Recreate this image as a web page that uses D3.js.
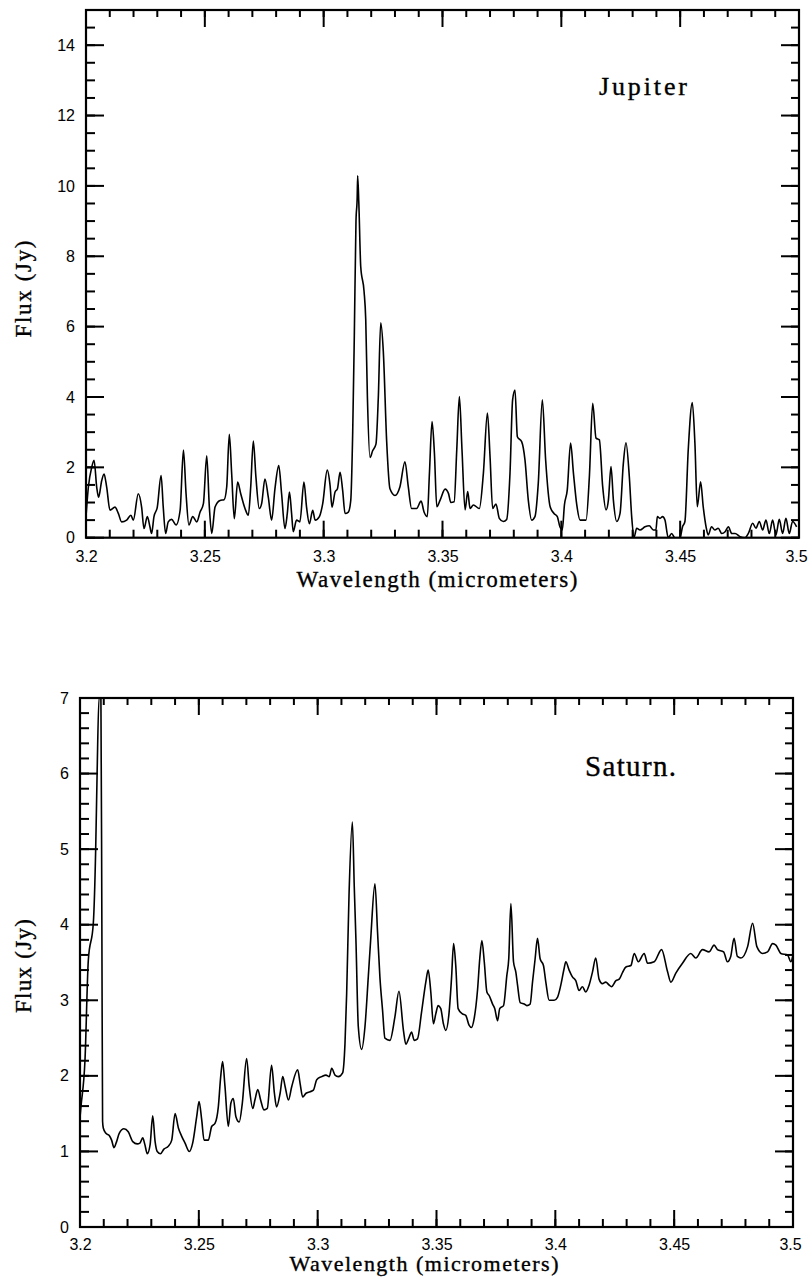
<!DOCTYPE html>
<html>
<head>
<meta charset="utf-8">
<script src="https://cdn.jsdelivr.net/npm/d3@7"></script>
<style>
    body { margin: 0; background: #fff; }
    svg { display: block; }
    .tick text { font-family: 'Liberation Sans', Arial, sans-serif; font-size: 16px; fill: #000; }
    .title { font-family: 'Liberation Serif', 'Times New Roman', serif; fill: #000; stroke: #000; stroke-width: 0.35; }
</style>
</head>
<body>
<svg width="809" height="1282"></svg>
<script>
// wavelength (micrometers), flux (Jy)
var jupiterSpectrum = [
    [3.2000,0.60],[3.2010,1.44],[3.2024,2.00],[3.2034,2.20],[3.2045,1.44],[3.2053,1.15],[3.2066,1.62],[3.2076,1.81],
    [3.2087,1.44],[3.2101,0.78],[3.2122,0.87],[3.2136,0.69],[3.2150,0.45],[3.2171,0.50],[3.2189,0.64],[3.2199,0.50],
    [3.2220,1.25],[3.2234,0.87],[3.2244,0.26],[3.2258,0.60],[3.2269,0.31],[3.2276,0.12],[3.2286,0.60],[3.2300,0.87],
    [3.2316,1.77],[3.2325,0.87],[3.2335,0.12],[3.2346,0.45],[3.2360,0.52],[3.2379,0.36],[3.2396,0.78],[3.2410,2.49],
    [3.2421,1.25],[3.2433,0.36],[3.2449,0.60],[3.2466,0.45],[3.2480,0.73],[3.2494,0.97],[3.2508,2.33],[3.2519,0.87],
    [3.2529,0.12],[3.2543,0.87],[3.2564,1.06],[3.2581,1.08],[3.2592,1.44],[3.2603,2.94],[3.2613,1.81],[3.2624,0.54],
    [3.2638,1.58],[3.2651,1.25],[3.2669,0.83],[3.2683,0.64],[3.2693,1.44],[3.2704,2.75],[3.2715,1.72],[3.2729,0.83],
    [3.2739,0.97],[3.2753,1.67],[3.2767,1.15],[3.2781,0.50],[3.2795,1.39],[3.2811,2.05],[3.2823,1.25],[3.2837,0.26],
    [3.2847,0.69],[3.2856,1.30],[3.2865,0.69],[3.2872,0.17],[3.2886,0.50],[3.2900,0.45],[3.2917,1.58],[3.2928,0.87],
    [3.2940,0.40],[3.2954,0.78],[3.2964,0.50],[3.2982,0.60],[3.2996,0.97],[3.3015,1.92],[3.3027,1.48],[3.3035,0.87],
    [3.3048,1.30],[3.3058,1.39],[3.3069,1.86],[3.3080,1.34],[3.3090,0.69],[3.3104,0.73],[3.3114,1.06],[3.3122,2.94],
    [3.3129,5.76],[3.3136,9.00],[3.3141,9.66],[3.3143,10.29],[3.3148,9.50],[3.3156,7.70],[3.3170,7.00],[3.3177,6.20],
    [3.3184,4.00],[3.3195,2.28],[3.3206,2.47],[3.3220,2.66],[3.3230,4.00],[3.3240,6.11],[3.3251,5.29],[3.3265,2.75],
    [3.3279,1.39],[3.3300,1.20],[3.3321,1.45],[3.3342,2.16],[3.3356,1.45],[3.3370,0.83],[3.3391,0.83],[3.3410,1.04],
    [3.3422,0.74],[3.3436,0.60],[3.3445,1.83],[3.3456,3.30],[3.3466,2.40],[3.3476,0.88],[3.3490,1.07],[3.3511,1.38],
    [3.3525,1.26],[3.3535,1.00],[3.3549,1.02],[3.3560,2.50],[3.3571,4.01],[3.3582,2.50],[3.3595,0.79],[3.3606,1.31],
    [3.3616,0.83],[3.3630,0.93],[3.3655,0.83],[3.3672,1.83],[3.3689,3.54],[3.3700,2.31],[3.3711,0.83],[3.3725,0.96],
    [3.3739,0.55],[3.3756,0.46],[3.3770,0.52],[3.3784,1.83],[3.3795,3.92],[3.3805,4.20],[3.3815,2.87],[3.3833,2.73],
    [3.3847,2.21],[3.3861,1.07],[3.3875,0.50],[3.3889,0.60],[3.3903,1.55],[3.3920,3.92],[3.3934,2.21],[3.3953,0.88],
    [3.3969,0.69],[3.3983,0.60],[3.3994,0.31],[3.4004,0.22],[3.4013,0.93],[3.4025,1.36],[3.4039,2.69],[3.4051,1.83],
    [3.4065,0.93],[3.4079,0.50],[3.4104,0.50],[3.4118,1.74],[3.4132,3.82],[3.4146,2.83],[3.4160,2.78],[3.4174,1.45],
    [3.4188,0.79],[3.4198,1.07],[3.4209,2.02],[3.4219,1.07],[3.4233,0.46],[3.4247,0.69],[3.4261,2.12],[3.4272,2.70],
    [3.4286,1.74],[3.4296,0.60],[3.4306,0.01],[3.4317,0.27],[3.4331,0.22],[3.4352,0.31],[3.4370,0.34],[3.4387,0.22],
    [3.4398,0.22],[3.4404,0.60],[3.4415,0.55],[3.4426,0.60],[3.4436,0.50],[3.4450,0.00],[3.4464,0.12],[3.4478,0.00],
    [3.4499,0.00],[3.4510,0.31],[3.4520,0.46],[3.4534,2.50],[3.4551,3.84],[3.4562,2.69],[3.4572,0.88],[3.4586,1.59],
    [3.4597,0.88],[3.4609,0.31],[3.4618,0.08],[3.4632,0.31],[3.4646,0.22],[3.4660,0.27],[3.4675,0.12],[3.4689,0.17],
    [3.4703,0.31],[3.4717,0.12],[3.4731,0.12],[3.4752,0.03],[3.4773,0.00],[3.4787,0.12],[3.4805,0.41],[3.4819,0.27],
    [3.4833,0.46],[3.4847,0.22],[3.4861,0.50],[3.4875,0.12],[3.4889,0.50],[3.4903,0.08],[3.4917,0.52],[3.4931,0.12],
    [3.4945,0.55],[3.4959,0.12],[3.4973,0.46],[3.4990,0.31]
];

var saturnSpectrum = [
    [3.2000,1.45],[3.2004,1.59],[3.2021,2.21],[3.2035,3.53],[3.2056,4.02],[3.2066,5.00],[3.2072,6.00],[3.2080,7.00],
    [3.2088,7.00],[3.2092,4.00],[3.2095,1.40],[3.2098,1.31],[3.2109,1.24],[3.2123,1.21],[3.2133,1.15],[3.2143,1.05],
    [3.2154,1.13],[3.2165,1.24],[3.2185,1.30],[3.2203,1.26],[3.2222,1.13],[3.2241,1.10],[3.2252,1.11],[3.2264,1.18],
    [3.2273,1.09],[3.2283,0.97],[3.2295,1.09],[3.2306,1.47],[3.2316,1.13],[3.2325,1.00],[3.2339,0.97],[3.2353,1.03],
    [3.2372,1.07],[3.2386,1.15],[3.2400,1.50],[3.2414,1.31],[3.2428,1.20],[3.2442,1.11],[3.2460,1.00],[3.2474,1.11],
    [3.2491,1.46],[3.2501,1.66],[3.2512,1.42],[3.2522,1.15],[3.2540,1.15],[3.2554,1.33],[3.2568,1.37],[3.2582,1.59],
    [3.2592,1.99],[3.2600,2.19],[3.2610,1.86],[3.2624,1.33],[3.2635,1.64],[3.2645,1.70],[3.2656,1.46],[3.2670,1.39],
    [3.2683,1.64],[3.2701,2.23],[3.2712,1.86],[3.2727,1.57],[3.2736,1.68],[3.2748,1.82],[3.2760,1.68],[3.2774,1.55],
    [3.2788,1.57],[3.2806,2.14],[3.2818,1.77],[3.2827,1.59],[3.2842,1.77],[3.2853,1.99],[3.2863,1.86],[3.2877,1.68],
    [3.2891,1.86],[3.2916,2.08],[3.2926,1.90],[3.2937,1.72],[3.2951,1.77],[3.2968,1.79],[3.2982,1.81],[3.2996,1.95],
    [3.3017,1.99],[3.3035,2.01],[3.3049,1.99],[3.3059,2.10],[3.3073,2.01],[3.3087,1.99],[3.3105,2.04],[3.3115,2.43],
    [3.3122,3.09],[3.3132,4.40],[3.3146,5.36],[3.3154,4.50],[3.3161,3.80],[3.3171,2.65],[3.3185,2.35],[3.3199,2.65],
    [3.3213,3.31],[3.3223,3.80],[3.3241,4.54],[3.3252,3.90],[3.3262,3.30],[3.3273,2.87],[3.3283,2.50],[3.3304,2.47],
    [3.3325,2.78],[3.3342,3.12],[3.3361,2.60],[3.3371,2.42],[3.3385,2.51],[3.3395,2.58],[3.3406,2.47],[3.3420,2.49],
    [3.3437,2.84],[3.3455,3.24],[3.3465,3.40],[3.3476,3.11],[3.3487,2.69],[3.3497,2.82],[3.3507,2.93],[3.3518,2.89],
    [3.3529,2.69],[3.3539,2.60],[3.3553,2.84],[3.3563,3.28],[3.3572,3.75],[3.3581,3.46],[3.3591,2.89],[3.3609,2.82],
    [3.3623,2.80],[3.3637,2.67],[3.3647,2.64],[3.3658,2.75],[3.3673,3.15],[3.3682,3.55],[3.3691,3.79],[3.3701,3.51],
    [3.3712,3.11],[3.3722,3.06],[3.3736,2.95],[3.3745,2.89],[3.3757,2.73],[3.3766,2.89],[3.3782,2.93],[3.3796,3.33],
    [3.3804,3.55],[3.3813,4.28],[3.3824,3.51],[3.3834,3.37],[3.3841,3.20],[3.3852,2.97],[3.3869,2.95],[3.3880,2.93],
    [3.3894,2.95],[3.3904,3.24],[3.3915,3.55],[3.3925,3.82],[3.3936,3.55],[3.3950,3.46],[3.3960,3.24],[3.3974,3.00],
    [3.3995,3.00],[3.4009,3.04],[3.4023,3.20],[3.4037,3.42],[3.4044,3.51],[3.4058,3.40],[3.4072,3.31],[3.4086,3.26],
    [3.4100,3.13],[3.4114,3.18],[3.4128,3.11],[3.4142,3.20],[3.4156,3.37],[3.4170,3.56],[3.4184,3.28],[3.4198,3.22],
    [3.4212,3.24],[3.4227,3.20],[3.4236,3.18],[3.4255,3.26],[3.4269,3.28],[3.4283,3.37],[3.4297,3.44],[3.4318,3.46],
    [3.4332,3.62],[3.4349,3.51],[3.4374,3.62],[3.4388,3.49],[3.4416,3.51],[3.4447,3.67],[3.4472,3.38],[3.4486,3.24],
    [3.4507,3.36],[3.4535,3.49],[3.4570,3.62],[3.4591,3.56],[3.4619,3.67],[3.4647,3.64],[3.4668,3.73],[3.4682,3.67],
    [3.4708,3.64],[3.4724,3.51],[3.4738,3.58],[3.4752,3.82],[3.4766,3.58],[3.4781,3.56],[3.4809,3.71],[3.4830,4.02],
    [3.4848,3.71],[3.4872,3.62],[3.4893,3.64],[3.4914,3.75],[3.4928,3.73],[3.4949,3.62],[3.4977,3.60],[3.4991,3.51],
    [3.5000,3.60]
];

// axis ticks
var xTickValues = [3.2, 3.25, 3.3, 3.35, 3.4, 3.45, 3.5];
var xTickLabels = ['3.2', '3.25', '3.3', '3.35', '3.4', '3.45', '3.5'];
var jupiterYTicks = [0, 2, 4, 6, 8, 10, 12, 14];
var saturnYTicks = [0, 1, 2, 3, 4, 5, 6, 7];

var svg = d3.select('svg');

// panel layout (pixels)
var panels = [
    {
        name: 'Jupiter', data: jupiterSpectrum, yMax: 15, yTicks: jupiterYTicks, yMinorStep: 0.5,
        left: 86, right: 799, top: 10, bottom: 537.7,
        nameX: 599, nameY: 95, nameSize: 26, nameLen: 88,
        xTitleX: 437, xTitleY: 587, xTitleLen: 281, xTitleSize: 23,
        yTitleX: 31, yTitleY: 289, yTitleLen: 97,
        xPad: 13
    },
    {
        name: 'Saturn.', data: saturnSpectrum, yMax: 7, yTicks: saturnYTicks, yMinorStep: 0.2,
        left: 80, right: 793, top: 698, bottom: 1227,
        nameX: 585, nameY: 776, nameSize: 29, nameLen: 91,
        xTitleX: 424, xTitleY: 1271, xTitleLen: 269, xTitleSize: 22,
        yTitleX: 31, yTitleY: 966, yTitleLen: 94,
        xPad: 12
    }
];

panels.forEach(function (p, idx) {
    var xScale = d3.scaleLinear().domain([3.2, 3.5]).range([p.left, p.right]);
    var yScale = d3.scaleLinear().domain([0, p.yMax]).range([p.bottom, p.top]);

    var xMinor = d3.range(0, 31).map(function (i) { return +(3.2 + i * 0.01).toFixed(2); });
    var nMinorY = Math.round(p.yMax / p.yMinorStep);
    var yMinor = d3.range(0, nMinorY + 1).map(function (i) { return +(i * p.yMinorStep).toFixed(2); });

    var g = svg.append('g').attr('class', 'panel-' + idx);

    // frame
    g.append('rect')
        .attr('x', p.left).attr('y', p.top)
        .attr('width', p.right - p.left).attr('height', p.bottom - p.top)
        .attr('fill', 'none')
        .attr('stroke', '#000')
        .attr('stroke-width', 2.2);

    // tick labels through d3 axes
    var xAxisG = g.append('g').attr('transform', 'translate(0,' + p.bottom + ')')
        .call(d3.axisBottom(xScale).tickValues(xTickValues).tickSize(0).tickPadding(p.xPad)
            .tickFormat(function (d, i) { return xTickLabels[i]; }));
    xAxisG.selectAll('.tick text').filter(function (d) { return d === 3.5; }).attr('dx', -3);

    g.append('g').attr('transform', 'translate(' + p.left + ',0)')
        .call(d3.axisLeft(yScale).tickValues(p.yTicks).tickSize(0).tickPadding(11).tickFormat(d3.format('d')));

    g.selectAll('.domain').remove();

    // clip the spectrum to the frame
    svg.append('clipPath').attr('id', 'clip' + idx)
        .append('rect')
        .attr('x', p.left).attr('y', p.top)
        .attr('width', p.right - p.left).attr('height', p.bottom - p.top);

    var line = d3.line()
        .curve(d3.curveMonotoneX)
        .x(function (d) { return xScale(d[0]); })
        .y(function (d) { return yScale(d[1]); });

    g.append('path')
        .datum(p.data)
        .attr('fill', 'none')
        .attr('stroke', '#000')
        .attr('stroke-width', 1.6)
        .attr('stroke-linejoin', 'round')
        .attr('clip-path', 'url(#clip' + idx + ')')
        .attr('d', line);

    // tick marks pointing into the frame on all four sides, drawn on top
    var segs = [];
    function addTicks(values, len, side) {
        values.forEach(function (v) {
            if (side === 'bottom') segs.push([[xScale(v), p.bottom], [xScale(v), p.bottom - len]]);
            if (side === 'top') segs.push([[xScale(v), p.top], [xScale(v), p.top + len]]);
            if (side === 'left') segs.push([[p.left, yScale(v)], [p.left + len, yScale(v)]]);
            if (side === 'right') segs.push([[p.right, yScale(v)], [p.right - len, yScale(v)]]);
        });
    }
    addTicks(xMinor, 8, 'bottom');
    addTicks(xMinor, 7, 'top');
    addTicks(yMinor, 9, 'left');
    addTicks(yMinor, 8, 'right');
    addTicks(xTickValues, 17, 'bottom');
    addTicks(xTickValues, 17, 'top');
    addTicks(p.yTicks, 18, 'left');
    addTicks(p.yTicks, 18, 'right');

    var seg = d3.line();
    g.append('g').attr('class', 'tickmarks')
        .selectAll('path')
        .data(segs)
        .join('path')
        .attr('fill', 'none')
        .attr('stroke', '#000')
        .attr('stroke-width', 2)
        .attr('d', seg);

    // planet name
    g.append('text')
        .attr('class', 'title')
        .attr('x', p.nameX).attr('y', p.nameY)
        .attr('font-size', p.nameSize)
        .attr('stroke-width', 0.15)
        .attr('textLength', p.nameLen)
        .attr('lengthAdjust', 'spacing')
        .text(p.name);

    // axis titles
    g.append('text')
        .attr('class', 'title')
        .attr('x', p.xTitleX).attr('y', p.xTitleY)
        .attr('text-anchor', 'middle')
        .attr('font-size', p.xTitleSize)
        .attr('textLength', p.xTitleLen)
        .attr('lengthAdjust', 'spacing')
        .text('Wavelength (micrometers)');

    g.append('text')
        .attr('class', 'title')
        .attr('transform', 'translate(' + p.yTitleX + ',' + p.yTitleY + ') rotate(-90)')
        .attr('text-anchor', 'middle')
        .attr('font-size', 23)
        .attr('stroke-width', 0.15)
        .attr('textLength', p.yTitleLen)
        .attr('lengthAdjust', 'spacing')
        .text('Flux (Jy)');
});
</script>
</body>
</html>
